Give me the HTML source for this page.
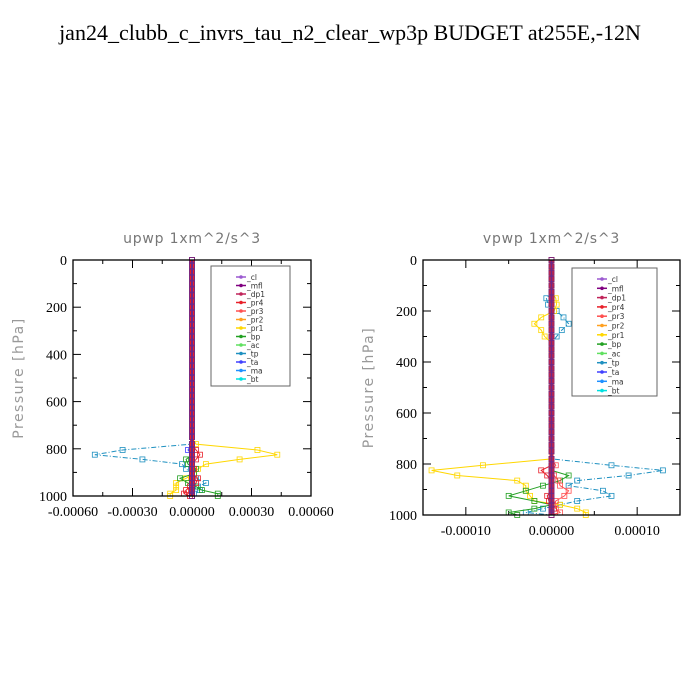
<!DOCTYPE html>
<html><head><meta charset="utf-8"><style>
body{margin:0;background:#fff;}
svg{display:block;}
</style></head><body>
<svg id="chart" width="700" height="700" xmlns="http://www.w3.org/2000/svg">
<rect width="700" height="700" fill="#fff"/>
<text x="350" y="40" text-anchor="middle" font-family="Liberation Serif, serif" font-size="22">jan24_clubb_c_invrs_tau_n2_clear_wp3p  BUDGET at255E,-12N</text>
<g id="p1"></g>
<g id="p2"></g>
</svg>
<script>
// shared pressure levels (hPa)
const levels = [0,25,50,75,100,125,150,175,200,225,250,275,300,325,350,375,400,425,450,475,500,525,550,575,600,625,650,675,700,725,750,780,805,825,845,865,885,905,925,945,960,975,990,1000];
const seriesNames = ["_cl","_mfl","_dp1","_pr4","_pr3","_pr2","_pr1","_bp","_ac","_tp","_ta","_ma","_bt"];
const seriesColors = ["#9b59d0","#800080","#c0245a","#e8202a","#ff5050","#ffa020","#ffd700","#22a022","#60e060","#1e90c0","#4040ff","#1e90ff","#00e0e0"];
// upwp values (non-zero series), indexed by low levels (780..1000)
const u_tp  = [0,-0.00035,-0.00049,-0.00025,-0.00005,-0.00003,0,0.00002,0.00007,0.00003,0.00004,0.00001,0];
const u_pr1 = [0.00002,0.00033,0.00043,0.00024,0.00007,0.00003,0.00001,-0.00003,-0.00008,-0.00008,-0.00008,-0.00011,-0.00011];
const u_bp  = [0,0,0,-0.00003,-0.00002,0.00002,0.00001,-0.00006,-0.00002,0.00002,0.00005,0.00013,0.00013];
const u_pr4 = [0,0.00002,0.00004,0.00002,0,0.00001,0,0.00003,0.00002,-0.00001,-0.00003,-0.00004,-0.00001];
const u_ta  = [0,-0.00002,0,0,0,0,0,0,0,0,0,0,0];
// vpwp values
const v_upper_levels = [150,175,200,225,250,275,300];
const v_upper_pr1 = [0.000005,0.000006,0.000003,-0.000012,-0.00002,-0.000012,-0.000008];
const v_upper_tp  = [-0.000006,-0.000004,0.000006,0.000014,0.00002,0.000012,0.000006];
const v_tp  = [0,0.00007,0.00013,0.00009,0.00003,0.00002,0.00006,0.00007,0.00003,0.00001,-0.00001,-0.00003,0];
const v_pr1 = [0,-0.00008,-0.00014,-0.00011,-0.00004,-0.00003,-0.00003,-0.000025,-0.00002,0.00001,0.00003,0.00004,0.00004];
const v_bp  = [0,0,0,0.00002,0.00001,-0.00001,-0.00003,-0.00005,-0.00002,0,-0.00002,-0.00005,-0.00004];
const v_pr3 = [0,0.000005,0,0.000003,0.000008,0.00001,0.00002,0.000015,0.000005,0.000002,0.000005,0.00001,0];
const v_pr4 = [0,0,-0.000012,-0.000005,0,0,0,-0.000005,-0.000003,0,0.000003,0,0];
const lowLevels = levels.slice(levels.indexOf(780));

const NS="http://www.w3.org/2000/svg";
function mk(parent,tag,attrs){const e=document.createElementNS(NS,tag);for(const k in attrs)e.setAttribute(k,attrs[k]);parent.appendChild(e);return e;}

function full(low){
  return levels.map(p=>{const i=lowLevels.indexOf(p);return i>=0?low[i]:0;});
}

function panel(g,cfg){
  const {x0,x1,y0,y1,xmin,xmax,xticks,xlabels,title,leg}=cfg;
  const X=v=>x0+(v-xmin)/(xmax-xmin)*(x1-x0);
  const Y=p=>y0+p/1000*(y1-y0);
  let t=mk(g,'text',{x:(x0+x1)/2,y:y0-17,'text-anchor':'middle','font-family':'DejaVu Sans, sans-serif','font-size':14,'letter-spacing':'0.8',fill:'#777','xml:space':'preserve'});
  t.textContent=title;
  let yl=mk(g,'text',{x:0,y:0,transform:`translate(${x0-50},${(y0+y1)/2}) rotate(-90)`,'text-anchor':'middle','font-family':'DejaVu Sans, sans-serif','font-size':14,'letter-spacing':'1.5',fill:'#999'});
  yl.textContent='Pressure [hPa]';
  for(let p=0;p<=1000;p+=100){
    const y=Y(p),L=p%200===0?8:4;
    mk(g,'line',{x1:x0,x2:x0+L,y1:y,y2:y,stroke:'#000'});mk(g,'line',{x1:x1,x2:x1-L,y1:y,y2:y,stroke:'#000'});
    if(p%200===0){const tx=mk(g,'text',{x:x0-6,y:y+5,'text-anchor':'end','font-family':'Liberation Serif, serif','font-size':14});tx.textContent=p;
      }
  }
  xticks.forEach((v,i)=>{const x=X(v);
    mk(g,'line',{x1:x,x2:x,y1:y1,y2:y1-8,stroke:'#000'});mk(g,'line',{x1:x,x2:x,y1:y0,y2:y0+8,stroke:'#000'});
    const tx=mk(g,'text',{x:x,y:y1+20,'text-anchor':'middle','font-family':'Liberation Serif, serif','font-size':14});tx.textContent=xlabels[i];
    
  });
  for(let i=0;i<xticks.length-1;i++){const x=X((xticks[i]+xticks[i+1])/2);
    mk(g,'line',{x1:x,x2:x,y1:y1,y2:y1-4,stroke:'#000'});mk(g,'line',{x1:x,x2:x,y1:y0,y2:y0+4,stroke:'#000'});}
  cfg.series.forEach(s=>{
    const pts=s.p.map((p,i)=>X(s.v[i]).toFixed(1)+','+Y(p).toFixed(1)).join(' ');
    const pl=mk(g,'polyline',{points:pts,fill:'none',stroke:s.c,'stroke-width':s.w||1,'stroke-dasharray':s.d||''});
    
    s.p.forEach((p,i)=>{const m=mk(g,'rect',{x:X(s.v[i])-2.5,y:Y(p)-2.5,width:5,height:5,fill:'none',stroke:s.c,'stroke-width':0.8});
      });
  });
  mk(g,'rect',{x:x0,y:y0,width:x1-x0,height:y1-y0,fill:'none',stroke:'#000','stroke-width':1.3});
  const lg=mk(g,'g',{});
  mk(lg,'rect',{x:leg.x,y:leg.y,width:leg.w,height:leg.h,fill:'#fff',stroke:'#666'});
  seriesNames.forEach((n,i)=>{const y=leg.y+11+i*leg.dy;
    mk(lg,'line',{x1:leg.x+25,x2:leg.x+35,y1:y,y2:y,stroke:seriesColors[i],'stroke-width':1.5});
    mk(lg,'circle',{cx:leg.x+30,cy:y,r:1.8,fill:seriesColors[i]});
    const tx=mk(lg,'text',{x:leg.x+36,y:y+3,'font-family':'DejaVu Sans, sans-serif','font-size':7.5,fill:'#333'});tx.textContent=n;
    });
}
const zeros=levels.map(()=>0);
panel(document.getElementById('p1'),{x0:73,x1:311,y0:260,y1:496,xmin:-0.0006,xmax:0.0006,
  xticks:[-0.0006,-0.0003,0,0.0003,0.0006],xlabels:["-0.00060","-0.00030","0.00000","0.00030","0.00060"],
  title:'upwp   1xm^2/s^3',leg:{x:211,y:266,w:79,h:120,dy:8.5},
  series:[
    {p:levels,v:full(u_tp),c:seriesColors[9],d:'5,2,1,2'},
    {p:levels,v:full(u_pr1),c:seriesColors[6]},
    {p:levels,v:full(u_bp),c:seriesColors[7]},
    {p:levels,v:full(u_pr4),c:seriesColors[3]},
    {p:levels,v:full(u_ta),c:seriesColors[10]},
    {p:levels,v:zeros,c:'#e8202a',w:4},
    {p:levels,v:zeros,c:'#6a2a8a',w:2}
  ]});
const vUpper=(up,low)=>levels.map(p=>{const i=v_upper_levels.indexOf(p);if(i>=0)return up[i];const j=lowLevels.indexOf(p);return j>=0?low[j]:0;});
panel(document.getElementById('p2'),{x0:423,x1:680,y0:260,y1:515,xmin:-0.00015,xmax:0.00015,
  xticks:[-0.0001,0,0.0001],xlabels:["-0.00010","0.00000","0.00010"],
  title:'vpwp   1xm^2/s^3',leg:{x:572,y:268,w:85,h:128,dy:9.3},
  series:[
    {p:levels,v:vUpper(v_upper_tp,v_tp),c:seriesColors[9],d:'5,2,1,2'},
    {p:levels,v:vUpper(v_upper_pr1,v_pr1),c:seriesColors[6]},
    {p:levels,v:full(v_bp),c:seriesColors[7]},
    {p:levels,v:full(v_pr3),c:seriesColors[4]},
    {p:levels,v:full(v_pr4),c:seriesColors[3]},
    {p:levels,v:zeros,c:'#e8202a',w:4},
    {p:levels,v:zeros,c:'#6a2a8a',w:2}
  ]});
</script>
</body></html>
